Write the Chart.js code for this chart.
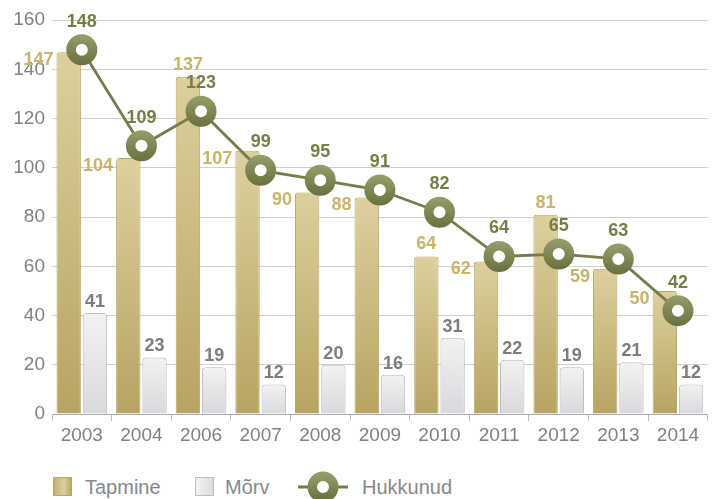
<!DOCTYPE html>
<html>
<head>
<meta charset="utf-8">
<script src="https://cdn.jsdelivr.net/npm/chart.js@4/dist/chart.umd.min.js"></script>
<style>
  html, body { margin: 0; padding: 0; background: #fff; overflow: hidden; }
  #wrap { position: relative; width: 719px; height: 499px; overflow: hidden; }
  #chart { position: absolute; left: 0; top: 0; }
  .legend { position: absolute; top: 476px; left: 0; height: 22px; font: 20px 'Liberation Sans', Arial, sans-serif; color: #88888c; }
  .legend span { position: absolute; white-space: nowrap; top: 0; line-height: 22px; }
  .box { position: absolute; width: 17px; height: 17px; top: 1px; }
</style>
</head>
<body>
<div id="wrap">
  <canvas id="chart" width="728" height="460"></canvas>
  <div class="legend">
    <div class="box" style="left:53px;border:1px solid #b8a75f;background:linear-gradient(90deg,#c4b274,#dccf9f 60%,#bba866);"></div>
    <span style="left:85px;">Tapmine</span>
    <div class="box" style="left:195px;border:1px solid #bdbdc1;background:linear-gradient(90deg,#f3f3f5,#dcdce0);"></div>
    <span style="left:225px;">Mõrv</span>
    <svg style="position:absolute;left:296px;top:-6px;" width="56" height="34">
      <defs>
        <linearGradient id="lg" x1="0" y1="0" x2="0" y2="1">
          <stop offset="0" stop-color="#939a67"/><stop offset="1" stop-color="#6c7340"/>
        </linearGradient>
      </defs>
      <line x1="2" y1="17" x2="52" y2="17" stroke="#767d4a" stroke-width="3"/>
      <circle cx="27" cy="17" r="10.75" fill="#fff" stroke="url(#lg)" stroke-width="9.5"/>
    </svg>
    <span style="left:362px;">Hukkunud</span>
  </div>
</div>
<script>
const years    = ['2003', '2004', '2006', '2007', '2008', '2009', '2010', '2011', '2012', '2013', '2014'];
const tapmine  = [147, 104, 137, 107, 90, 88, 64, 62, 81, 59, 50];
const morv     = [41, 23, 19, 12, 20, 16, 31, 22, 19, 21, 12];
const hukkunud = [148, 109, 123, 99, 95, 91, 82, 64, 65, 63, 42];

const FONT = "'Liberation Sans', Arial, sans-serif";

// vertical gradient per bar, from its top down to zero
function barGradient(top, bottom) {
  return ctx => {
    const chart = ctx.chart;
    if (!chart.chartArea || ctx.raw == null) return bottom;
    const y = chart.scales.y;
    const y0 = y.getPixelForValue(ctx.raw);
    const y1 = y.getPixelForValue(0);
    const g = chart.ctx.createLinearGradient(0, y0, 0, y1 + 0.01);
    g.addColorStop(0, top);
    g.addColorStop(1, bottom);
    return g;
  };
}

function ringGradient(ctx) {
  const chart = ctx.chart;
  if (!chart.chartArea || ctx.raw == null) return '#767d4a';
  const py = chart.scales.y.getPixelForValue(ctx.raw);
  const g = chart.ctx.createLinearGradient(0, py - 15, 0, py + 15);
  g.addColorStop(0, '#969d6a');
  g.addColorStop(1, '#6a713f');
  return g;
}

// value labels: Tapmine left of / above bar, Mõrv above bar, Hukkunud above point
const valueLabels = {
  id: 'valueLabels',
  afterDatasetsDraw(chart) {
    const c = chart.ctx;
    c.save();
    c.font = 'bold 18px ' + FONT;
    c.textBaseline = 'middle';

    chart.getDatasetMeta(0).data.forEach((bar, i) => {
      c.fillStyle = '#c8b46b';
      const left = bar.x - bar.width / 2;
      if (Math.abs(hukkunud[i] - tapmine[i]) > 10) {
        c.textAlign = 'center';
        c.fillText(tapmine[i], bar.x, bar.y - 12);
      } else {
        c.textAlign = 'right';
        c.fillText(tapmine[i], left - 3, bar.y + 8);
      }
    });

    chart.getDatasetMeta(1).data.forEach((bar, i) => {
      c.fillStyle = '#7c7c82';
      c.textAlign = 'center';
      c.fillText(morv[i], bar.x, bar.y - 11);
    });

    chart.getDatasetMeta(2).data.forEach((pt, i) => {
      c.fillStyle = '#767d48';
      c.textAlign = 'center';
      c.fillText(hukkunud[i], pt.x, pt.y - 28);
    });
    c.restore();
  }
};

new Chart(document.getElementById('chart'), {
  type: 'bar',
  data: {
    labels: years,
    datasets: [
      {
        label: 'Tapmine',
        data: tapmine,
        order: 1,
        backgroundColor: barGradient('#ddd09f', '#b7a462'),
        borderColor: '#bba960',
        borderWidth: 1,
        borderRadius: { topLeft: 3, topRight: 3 },
        borderSkipped: 'bottom',
        categoryPercentage: 0.88,
        barPercentage: 0.93,
      },
      {
        label: 'Mõrv',
        data: morv,
        order: 1,
        backgroundColor: barGradient('#f2f2f4', '#d9d9dd'),
        borderColor: '#bdbdc2',
        borderWidth: 1,
        borderRadius: { topLeft: 4, topRight: 4 },
        borderSkipped: 'bottom',
        categoryPercentage: 0.88,
        barPercentage: 0.93,
      },
      {
        type: 'line',
        label: 'Hukkunud',
        data: hukkunud,
        order: 0,
        borderColor: '#767d4a',
        borderWidth: 2.8,
        tension: 0,
        pointRadius: 10.75,
        pointBorderWidth: 9.5,
        pointBackgroundColor: '#ffffff',
        pointBorderColor: ringGradient,
      },
    ],
  },
  options: {
    responsive: false,
    animation: false,
    layout: { padding: { top: 20, right: 0, left: 0, bottom: 0 } },
    plugins: { legend: { display: false }, tooltip: { enabled: false } },
    scales: {
      x: {
        offset: true,
        grid: { display: true, drawOnChartArea: false, offset: true, tickLength: 7, color: '#bdbdbd' },
        border: { color: '#a9a9ab', width: 1 },
        ticks: { color: '#808085', font: { family: FONT, size: 19 }, padding: 3 },
        afterFit: s => { s.height = 46; },
      },
      y: {
        min: 0,
        max: 160,
        grid: { color: '#cfcfcf', drawTicks: false, tickLength: 0 },
        border: { display: false },
        ticks: { stepSize: 20, color: '#808085', font: { family: FONT, size: 19 }, padding: 7 },
        afterFit: s => { s.width = 52; },
      },
    },
  },
  plugins: [valueLabels],
});
</script>
</body>
</html>
